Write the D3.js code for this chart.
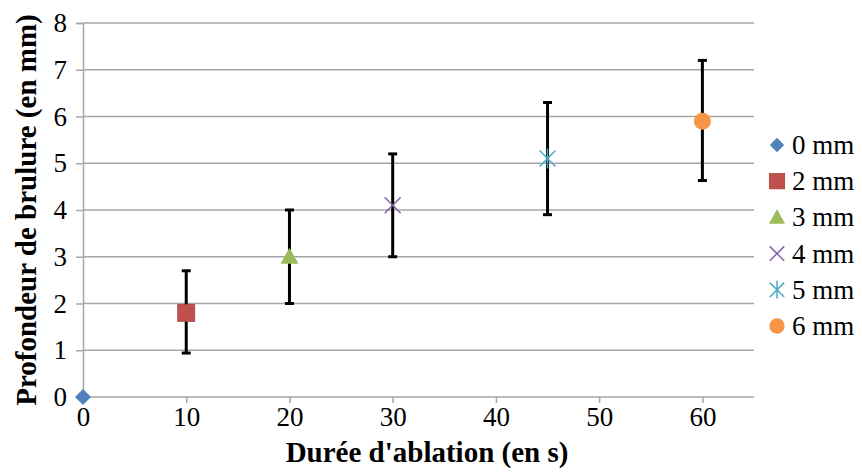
<!DOCTYPE html>
<html><head><meta charset="utf-8">
<script src="https://cdn.jsdelivr.net/npm/d3@7"></script>
<style>body{margin:0;background:#fff}svg{display:block}</style>
</head><body>
<script>
const series = ["0 mm","2 mm","3 mm","4 mm","5 mm","6 mm"];
const durations = [0,10,20,30,45,60];
const depths = [0,1.8,3.0,4.1,5.1,5.9];
const errLow = [null,0.94,2.0,3.0,3.9,4.63];
const errHigh = [null,2.7,4.0,5.2,6.3,7.2];
const xTicks = [0,10,20,30,40,50,60];
const yTicks = [0,1,2,3,4,5,6,7,8];
const colors = ["#4F81BD","#C0504D","#9BBB59","#8064A2","#4BACC6","#F79646"];
const shapes = ["diamond","square","triangle","x","star","circle"];

const W=862,H=472;
const svg=d3.select("body").append("svg").attr("width",W).attr("height",H);
const x=d3.scaleLinear().domain([0,65]).range([83,754]);
const y=d3.scaleLinear().domain([0,8]).range([397,23]);
const font="'Liberation Serif','Times New Roman',serif";
const grid="#a6a6a6";

// y axis + ticks
const yAxis=d3.axisLeft(y).tickValues(yTicks).tickSize(7).tickPadding(9).tickFormat(d3.format("d"));
const gy=svg.append("g").attr("transform","translate(83,0)").call(yAxis);
gy.select(".domain").attr("stroke",grid).attr("stroke-width",1.5);
gy.selectAll(".tick line").attr("stroke",grid).attr("stroke-width",1.5);
gy.selectAll(".tick text").attr("font-family",font).attr("font-size",27).attr("fill","#000");
// gridlines
svg.append("g").selectAll("line").data(yTicks.filter(d=>d>0)).join("line")
  .attr("x1",83).attr("x2",754).attr("y1",d=>y(d)).attr("y2",d=>y(d))
  .attr("stroke",grid).attr("stroke-width",1.5);

const xAxis=d3.axisBottom(x).tickValues(xTicks).tickSize(6).tickPadding(4).tickFormat(d3.format("d"));
const gx=svg.append("g").attr("transform","translate(0,397)").call(xAxis);
gx.select(".domain").attr("stroke",grid).attr("stroke-width",1.5).attr("d","M83,0H754");
gx.selectAll(".tick line").attr("stroke",grid).attr("stroke-width",1.5);
gx.selectAll(".tick text").attr("font-family",font).attr("font-size",27).attr("fill","#000");

// titles
svg.append("text").attr("x",427).attr("y",462).attr("text-anchor","middle")
  .attr("font-family",font).attr("font-weight","bold").attr("font-size",29).text("Durée d'ablation (en s)");
svg.append("text").attr("transform","translate(36,210) rotate(-90)").attr("text-anchor","middle")
  .attr("font-family",font).attr("font-weight","bold").attr("font-size",29).text("Profondeur de brulure (en mm)");

// error bars
const eb=svg.append("g");
durations.forEach((d,i)=>{
  if(errLow[i]==null) return;
  const cx=x(d);
  eb.append("line").attr("x1",cx).attr("x2",cx).attr("y1",y(errLow[i])).attr("y2",y(errHigh[i])).attr("stroke","#000").attr("stroke-width",3);
  [errLow[i],errHigh[i]].forEach(v=>eb.append("line").attr("x1",cx-4.5).attr("x2",cx+4.5).attr("y1",y(v)).attr("y2",y(v)).attr("stroke","#000").attr("stroke-width",3));
});

function marker(g,shape,color,cx,cy,s){
  s=s||1;
  if(shape==="diamond") g.append("path").attr("d",`M${cx},${cy-8*s}L${cx+8*s},${cy}L${cx},${cy+8*s}L${cx-8*s},${cy}Z`).attr("fill",color);
  else if(shape==="square") g.append("rect").attr("x",cx-8.5*s).attr("y",cy-8.5*s).attr("width",17*s).attr("height",17*s).attr("fill",color).attr("stroke","#a8403d").attr("stroke-width",0.8);
  else if(shape==="triangle") g.append("path").attr("d",`M${cx},${cy-9*s}L${cx+9*s},${cy+7*s}L${cx-9*s},${cy+7*s}Z`).attr("fill",color);
  else if(shape==="x") g.append("path").attr("d",`M${cx-8*s},${cy-8*s}L${cx+8*s},${cy+8*s}M${cx+8*s},${cy-8*s}L${cx-8*s},${cy+8*s}`).attr("stroke",color).attr("stroke-width",1.5).attr("fill","none");
  else if(shape==="star") g.append("path").attr("d",`M${cx-8*s},${cy-8*s}L${cx+8*s},${cy+8*s}M${cx+8*s},${cy-8*s}L${cx-8*s},${cy+8*s}M${cx},${cy-10*s}L${cx},${cy+10*s}`).attr("stroke",color).attr("stroke-width",1.5).attr("fill","none");
  else if(shape==="circle") g.append("circle").attr("cx",cx).attr("cy",cy).attr("r",8.5*s).attr("fill",color);
}
const pts=svg.append("g");
durations.forEach((d,i)=>marker(pts,shapes[i],colors[i],x(d),y(depths[i])));

// legend
const lg=svg.append("g");
series.forEach((s,i)=>{
  const ly=145+i*36.2;
  marker(lg,shapes[i],colors[i],777,ly,0.9);
  lg.append("text").attr("x",792).attr("y",ly+9).attr("font-family",font).attr("font-size",27).text(s);
});
</script>
</body></html>
